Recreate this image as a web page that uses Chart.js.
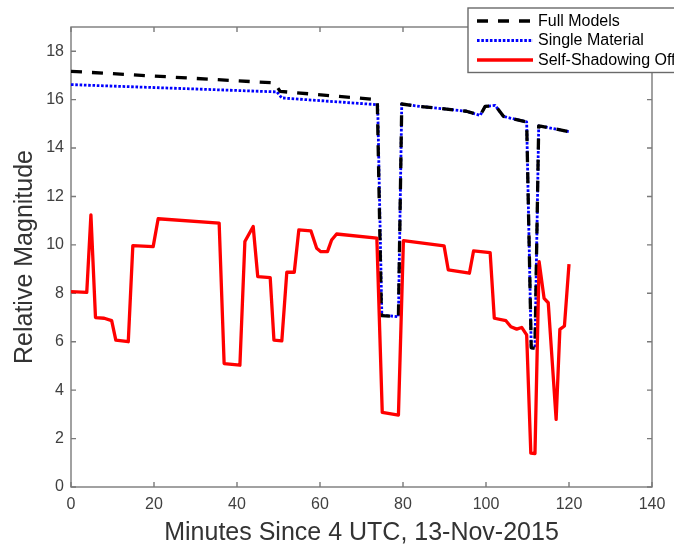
<!DOCTYPE html>
<html><head><meta charset="utf-8">
<script src="https://cdn.jsdelivr.net/npm/chart.js@4/dist/chart.umd.min.js"></script>
<style>html,body{margin:0;padding:0;background:#fff;overflow:hidden}canvas{display:block}</style>
</head><body>
<canvas id="c" width="674" height="548"></canvas>
<script>
const seriesNames = ['Full Models', 'Single Material', 'Self-Shadowing Off'];

const fullX = [0, 49, 50.4, 73.8, 74.8, 78.9, 79.7, 84.1, 89.3, 95.3, 98.6, 99.8, 102.2, 104.2, 105.8, 109.8, 110.9, 111.8, 112.7, 113.4, 120.2];
const fullY = [17.17, 16.69, 16.34, 16.0, 7.08, 7.03, 15.82, 15.72, 15.63, 15.52, 15.35, 15.72, 15.76, 15.31, 15.24, 15.08, 5.75, 5.73, 14.92, 14.9, 14.67];

const singleX = [0, 49.6, 50.8, 73.9, 74.9, 78.9, 79.7, 84.1, 89.3, 95.3, 98.6, 99.8, 102.2, 104.2, 105.8, 109.8, 110.9, 111.8, 112.7, 113.4, 120.2];
const singleY = [16.62, 16.32, 16.07, 15.79, 7.1, 7.03, 15.82, 15.72, 15.63, 15.52, 15.35, 15.72, 15.76, 15.31, 15.24, 15.08, 5.75, 5.73, 14.92, 14.9, 14.67];

const offX = [0, 3.8, 4.8, 5.9, 8.0, 9.8, 10.8, 13.8, 14.9, 19.8, 21.0, 35.7, 36.9, 40.7, 41.9, 43.9, 45.0, 48.0, 48.9, 50.8, 52.0, 53.8, 54.9, 57.8, 59.2, 60.2, 61.8, 62.8, 64.0, 73.7, 75.0, 78.9, 80.1, 89.9, 90.9, 96.0, 97.0, 101.0, 102.0, 104.8, 106.0, 107.4, 108.6, 109.8, 110.8, 111.8, 112.8, 114.0, 115.0, 116.9, 117.8, 118.9, 120.0];
const offY = [8.07, 8.04, 11.24, 7.0, 6.97, 6.87, 6.07, 6.0, 9.97, 9.93, 11.08, 10.9, 5.1, 5.03, 10.14, 10.76, 8.69, 8.65, 6.07, 6.04, 8.87, 8.87, 10.62, 10.58, 9.86, 9.72, 9.72, 10.2, 10.45, 10.28, 3.08, 2.97, 10.18, 9.96, 8.97, 8.83, 9.75, 9.68, 6.97, 6.87, 6.62, 6.52, 6.59, 6.28, 1.4, 1.38, 9.31, 7.79, 7.61, 2.79, 6.51, 6.65, 9.21];

const xTicks = [0, 20, 40, 60, 80, 100, 120, 140];
const yTicks = [0, 2, 4, 6, 8, 10, 12, 14, 16, 18];
const xLabel = 'Minutes Since 4 UTC, 13-Nov-2015';
const yLabel = 'Relative Magnitude';

const FONT = "'Liberation Sans', Arial, Helvetica, sans-serif";
const pts = (xs, ys) => xs.map((x, i) => ({x: x, y: ys[i]}));

const boxPlugin = {
  id: 'matlabBox',
  beforeDatasetsDraw(chart) {
    const {ctx, chartArea: a, scales} = chart;
    ctx.save();
    ctx.strokeStyle = '#7a7a7a';
    ctx.lineWidth = 1.4;
    ctx.strokeRect(a.left, a.top, a.right - a.left, a.bottom - a.top);
    ctx.beginPath();
    const tl = 5;
    scales.x.ticks.forEach(t => {
      const px = scales.x.getPixelForValue(t.value);
      ctx.moveTo(px, a.bottom); ctx.lineTo(px, a.bottom - tl);
      ctx.moveTo(px, a.top); ctx.lineTo(px, a.top + tl);
    });
    scales.y.ticks.forEach(t => {
      const py = scales.y.getPixelForValue(t.value);
      ctx.moveTo(a.left, py); ctx.lineTo(a.left + tl, py);
      ctx.moveTo(a.right, py); ctx.lineTo(a.right - tl, py);
    });
    ctx.stroke();
    ctx.restore();
  }
};

const legendPlugin = {
  id: 'matlabLegend',
  afterDraw(chart) {
    const ctx = chart.ctx;
    const bx = 468, by = 8, bw = 260, bh = 64.5;
    ctx.save();
    ctx.fillStyle = '#fff';
    ctx.fillRect(bx, by, bw, bh);
    ctx.strokeStyle = '#6a6a6a';
    ctx.lineWidth = 1.4;
    ctx.strokeRect(bx, by, bw, bh);
    const rows = [21, 40.5, 60];
    [0, 1, 2].forEach((di, r) => {
      const ds = chart.data.datasets[di];
      const y = rows[r];
      ctx.beginPath();
      ctx.strokeStyle = ds.borderColor;
      ctx.lineWidth = ds.borderWidth;
      ctx.setLineDash(ds.borderDash || []);
      ctx.moveTo(477, y); ctx.lineTo(533, y);
      ctx.stroke();
      ctx.setLineDash([]);
      ctx.fillStyle = '#000';
      ctx.font = '16px ' + FONT;
      ctx.textAlign = 'left';
      ctx.textBaseline = 'middle';
      ctx.fillText(ds.label, 538, y + 0.5);
    });
    ctx.restore();
  }
};

new Chart(document.getElementById('c'), {
  type: 'line',
  data: {
    datasets: [
      {label: seriesNames[0], data: pts(fullX, fullY), borderColor: '#000000', borderWidth: 3.3, borderDash: [11, 10], order: 2},
      {label: seriesNames[1], data: pts(singleX, singleY), borderColor: '#0000ff', borderWidth: 2.8, borderDash: [2.6, 1.7], order: 3},
      {label: seriesNames[2], data: pts(offX, offY), borderColor: '#ff0000', borderWidth: 3.3, order: 1}
    ]
  },
  options: {
    responsive: false,
    animation: false,
    devicePixelRatio: 1,
    elements: {
      point: {radius: 0, hoverRadius: 0},
      line: {tension: 0, fill: false, borderJoinStyle: 'round', borderCapStyle: 'butt'}
    },
    layout: {padding: {left: 0, right: 22, top: 27, bottom: 0}},
    plugins: {legend: {display: false}, tooltip: {enabled: false}},
    scales: {
      x: {
        type: 'linear', min: 0, max: 140,
        afterBuildTicks: s => { s.ticks = xTicks.map(v => ({value: v})); },
        afterFit: s => { s.height = 61; },
        grid: {display: false, drawTicks: false},
        border: {display: false},
        ticks: {padding: 8, color: '#404040', font: {family: FONT, size: 16}, maxRotation: 0, autoSkip: false},
        title: {display: true, text: xLabel, color: '#333333', font: {family: FONT, size: 25}, padding: {top: 0, bottom: 0}}
      },
      y: {
        type: 'linear', min: 0, max: 19,
        afterBuildTicks: s => { s.ticks = yTicks.map(v => ({value: v})); },
        afterFit: s => { s.width = 71; },
        grid: {display: false, drawTicks: false},
        border: {display: false},
        ticks: {padding: 7, color: '#404040', font: {family: FONT, size: 16}, autoSkip: false},
        title: {display: true, text: yLabel, color: '#333333', font: {family: FONT, size: 25}, padding: {top: 10, bottom: 0}}
      }
    }
  },
  plugins: [boxPlugin, legendPlugin]
});
</script>
</body></html>
